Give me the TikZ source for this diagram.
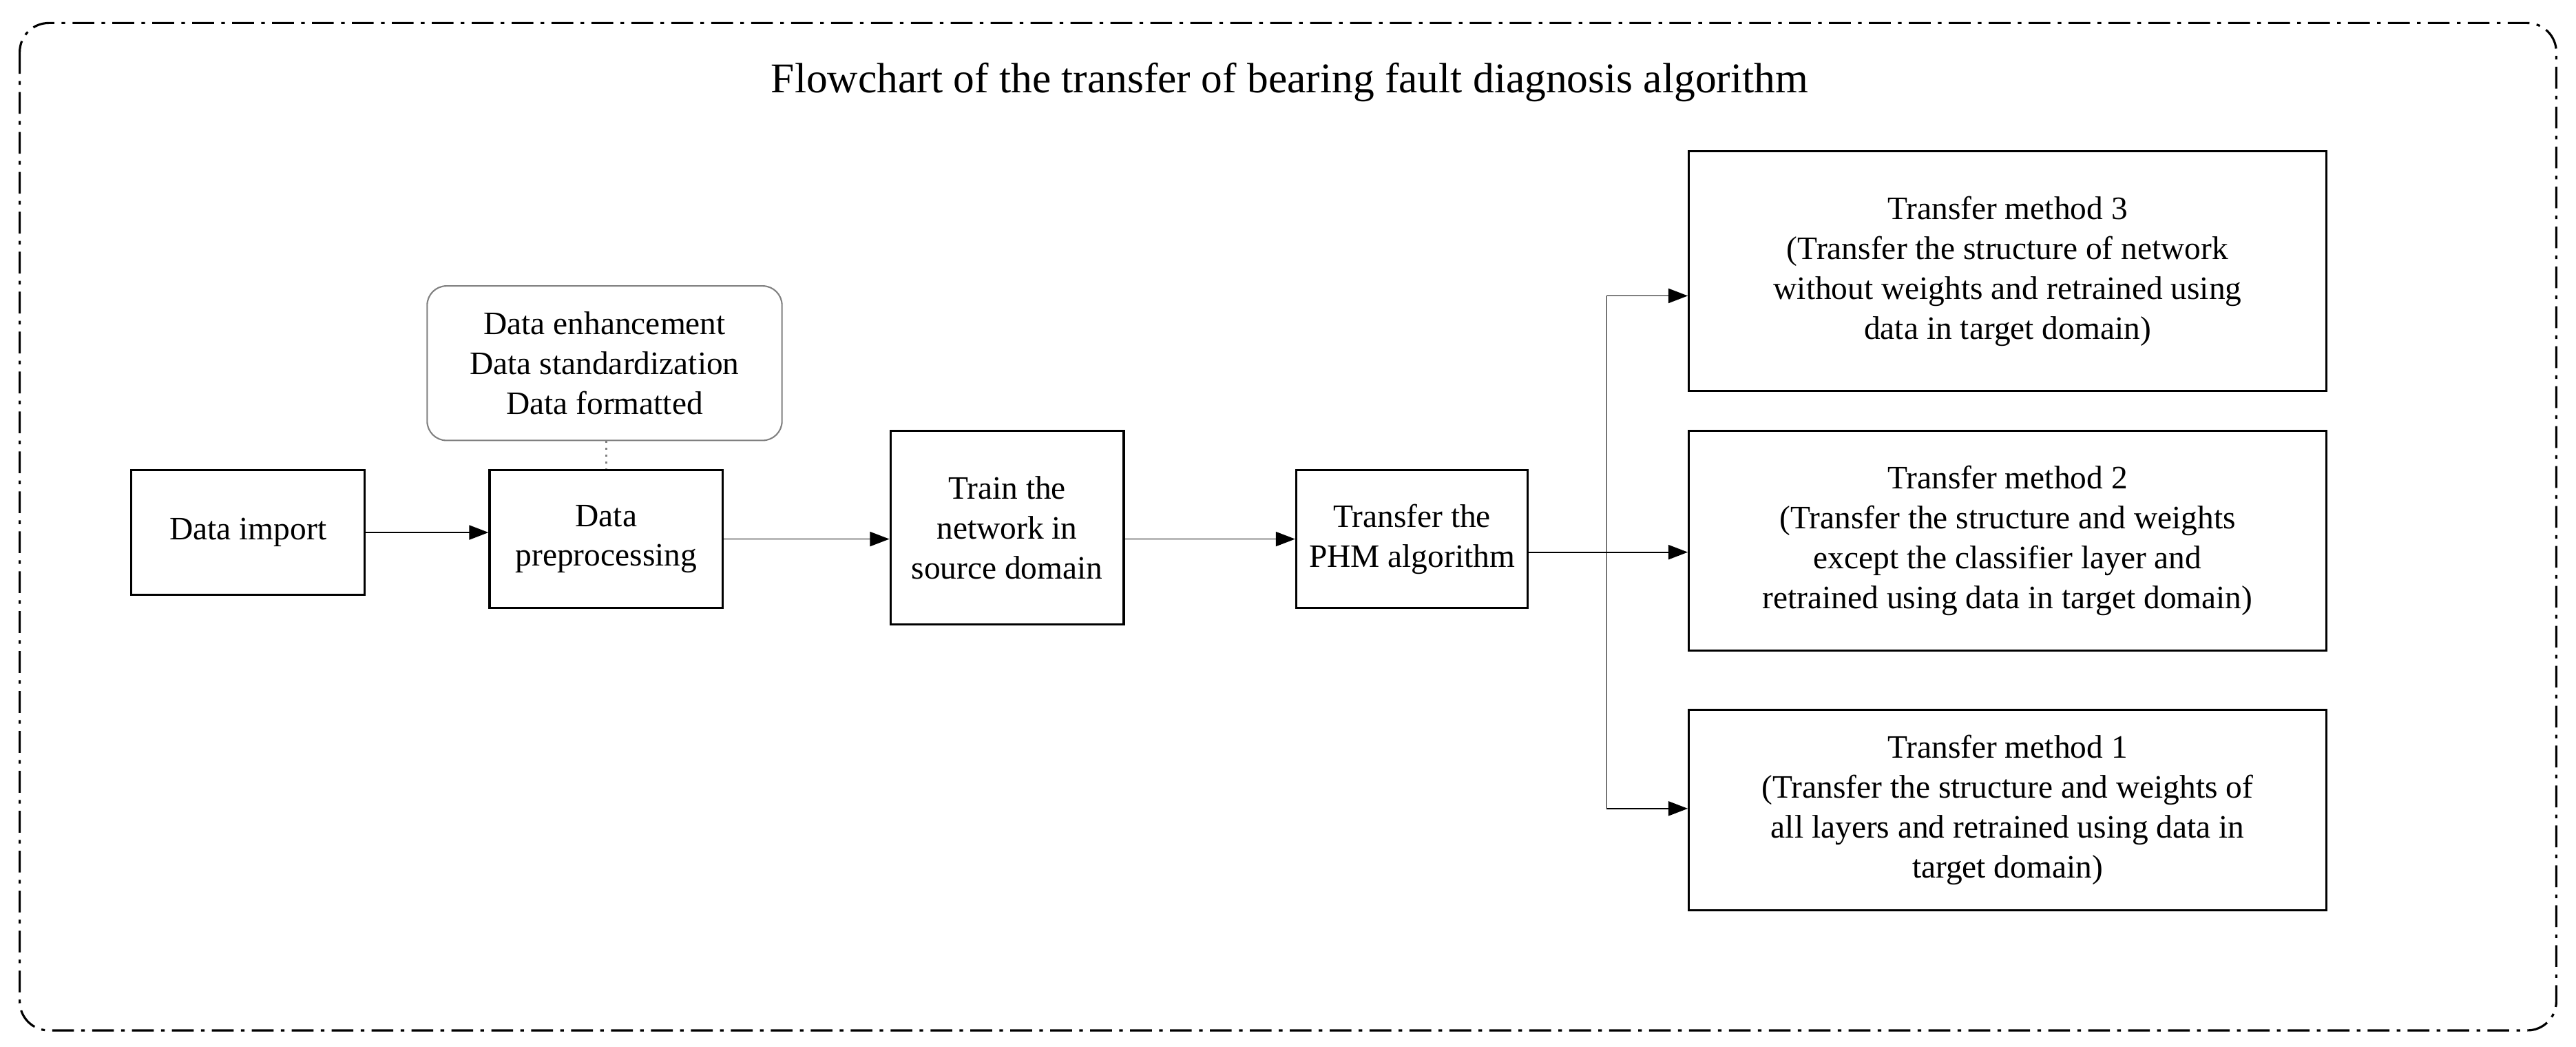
\documentclass[tikz,border=0pt]{standalone}
\usepackage{fontspec}
\setmainfont{Liberation Serif}
\usetikzlibrary{arrows.meta}
\begin{document}
\begin{tikzpicture}[x=0.02386cm,y=-0.02386cm,
  box/.style={draw,line width=0.9pt,align=center,font=\fontsize{13.5}{16.5}\selectfont,inner sep=0pt},
  arr/.style={-{Triangle[length=8pt,width=6pt]},line width=0.5pt}]
\useasboundingbox (0,0) rectangle (1568,637);
\draw[line width=0.9pt,dash pattern=on 9pt off 3pt on 1.5pt off 3pt,rounded corners=12pt] (12,14) rectangle (1556,627);
\node[font=\fontsize{17.5}{20}\selectfont] (title) at (785,50) {Flowchart of the transfer of bearing fault diagnosis algorithm};
\node[box,minimum width=142*0.02386cm,minimum height=76*0.02386cm] (imp) at (151,324) {Data import};
\node[box,minimum width=142*0.02386cm,minimum height=84*0.02386cm] (pre) at (369,328) {Data\\preprocessing};
\node[box,draw=gray,line width=0.6pt,rounded corners=8pt,minimum width=216*0.02386cm,minimum height=94*0.02386cm] (enh) at (368,221) {Data enhancement\\Data standardization\\Data formatted};
\node[box,minimum width=142*0.02386cm,minimum height=118*0.02386cm] (train) at (613,321) {Train the\\network in\\source domain};
\node[box,minimum width=141*0.02386cm,minimum height=84*0.02386cm] (phm) at (859.5,328) {Transfer the\\PHM algorithm};
\node[box,minimum width=388*0.02386cm,minimum height=146*0.02386cm] (m3) at (1222,165) {Transfer method 3\\(Transfer the structure of network\\without weights and retrained using\\data in target domain)};
\node[box,minimum width=388*0.02386cm,minimum height=134*0.02386cm] (m2) at (1222,329) {Transfer method 2\\(Transfer the structure and weights\\except the classifier layer and\\retrained using data in target domain)};
\node[box,minimum width=388*0.02386cm,minimum height=122*0.02386cm] (m1) at (1222,493) {Transfer method 1\\(Transfer the structure and weights of\\all layers and retrained using data in\\target domain)};
\draw[dotted,line width=0.8pt,gray] (enh.south -| pre.north) -- (pre.north);
\draw[arr] (imp.east) -- (pre.west |- imp.east);
\draw[arr] (pre.east) -- (train.west |- pre.east);
\draw[arr] (train.east |- phm.west) -- (phm.west);
\coordinate (br) at (978,336);
\draw[line width=0.5pt] (phm.east |- br) -- (br);
\draw[line width=0.5pt] (978,180) -- (978,492);
\draw[arr] (978,180) -- (m3.west |- 0,180);
\draw[arr] (br) -- (m2.west |- br);
\draw[arr] (978,492) -- (m1.west |- 0,492);
\end{tikzpicture}
\end{document}
